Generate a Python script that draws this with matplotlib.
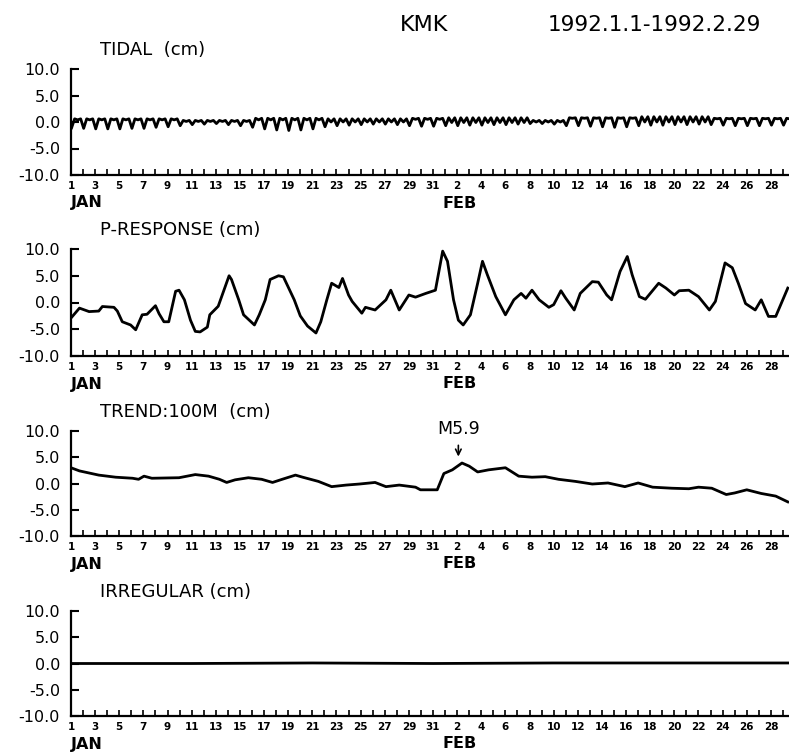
import matplotlib.pyplot as plt
import numpy as np

# time axis: days since Jan 1 1992 00:00
# tick labels: odd days in January, even days in February
tick_days = list(range(0, 60, 2))
tick_labels = [str(d + 1) for d in range(0, 31, 2)] + [str(d - 30) for d in range(32, 60, 2)]

# TIDAL: per-day deep low, high water and secondary low (cm), Jan 1 .. Feb 29
tide_low = [-1.1, -1.2, -1.3, -1.3, -1.3, -1.2, -1.2, -1.0, -0.9,
            -0.7, -0.5, -0.4, -0.3, -0.5, -0.7,
            -1.0, -1.3, -1.5, -1.6, -1.5, -1.3,
            -0.9, -0.7, -0.6, -0.5, -0.4, -0.4, -0.5,
            -0.7, -0.8, -0.8,
            -0.7, -0.7, -0.6, -0.6, -0.5, -0.5, -0.4,
            -0.3, -0.3, -0.4,
            -0.7, -0.7, -0.8, -0.9, -1.0, -0.9,
            -0.7, -0.6, -0.6, -0.5, -0.5, -0.4,
            -0.5, -0.6, -0.7, -0.7, -0.7, -0.6, -0.6]
tide_high = [0.6] * 9 + [0.3] * 6 + [0.7] * 6 + [0.6] * 7 + [0.7] * 3 + \
            [0.8] * 7 + [0.3] * 3 + [0.8] * 6 + [1.0] * 6 + [0.7] * 7
tide_mid = [0.4] * 9 + [0.1] * 6 + [0.4] * 6 + [0.0] * 7 + [0.5] * 3 + \
           [-0.1] * 7 + [0.0] * 3 + [0.7] * 6 + [0.0] * 6 + [0.6] * 7

# P-RESPONSE (cm)
p_t = [0.0, 0.7, 1.5, 2.3, 2.6, 3.56, 3.84, 4.25, 4.94, 5.36, 5.9, 6.3, 7.0, 7.3,
       7.7, 8.1, 8.67, 8.95, 9.4, 9.9, 10.3, 10.7, 11.3, 11.5, 12.2, 13.1, 13.3,
       13.9, 14.3, 15.2, 15.6, 16.1, 16.5, 17.2, 17.6, 18.5, 19.0, 19.6, 20.3,
       20.7, 21.2, 21.6, 22.2, 22.5, 23.0, 23.3, 24.1, 24.4, 25.2, 26.1, 26.5,
       27.2, 28.0, 28.55, 29.4, 30.2, 30.8, 31.2, 31.7, 32.1, 32.5, 33.1, 33.7,
       34.1, 34.5, 35.2, 36.0, 36.7, 37.3, 37.7, 38.2, 38.8, 39.6, 40.0, 40.6,
       41.0, 41.7, 42.2, 43.2, 43.7, 44.4, 44.8, 45.5, 46.1, 46.5, 47.1, 47.6,
       48.7, 49.3, 50.0, 50.4, 51.2, 52.0, 52.9, 53.4, 54.2, 54.8, 55.3, 55.9,
       56.7, 57.2, 57.8, 58.4, 59.4]
p_val = [-2.9, -1.05, -1.7, -1.6, -0.75, -0.9, -1.6, -3.6, -4.2, -5.1, -2.3, -2.2,
         -0.6, -2.1, -3.6, -3.6, 2.1, 2.3, 0.5, -3.3, -5.4, -5.5, -4.6, -2.3, -0.7,
         5.0, 4.3, 0.5, -2.3, -4.2, -2.3, 0.5, 4.3, 5.0, 4.8, 0.5, -2.5, -4.4, -5.7,
         -3.6, 0.5, 3.6, 2.8, 4.5, 1.4, 0.2, -2.0, -0.9, -1.4, 0.5, 2.3,
         -1.4, 1.4, 1.0, 1.7, 2.3, 9.6, 7.7, 0.5, -3.3, -4.2, -2.3, 3.6,
         7.7, 5.2, 1.1, -2.3, 0.5, 1.7, 0.8, 2.3, 0.5, -0.9, -0.4, 2.2,
         0.8, -1.4, 1.7, 3.9, 3.8, 1.4, 0.5, 5.8, 8.6, 5.2, 1.1, 0.6,
         3.6, 2.7, 1.4, 2.2, 2.3, 1.1, -1.4, 0.2, 7.4, 6.5, 3.6, -0.2,
         -1.4, 0.5, -2.6, -2.6, 2.7]

# TREND:100M (cm)
tr_t = [0.0, 0.7, 2.3, 3.7, 5.1, 5.6, 6.05, 6.7, 8.95, 10.3, 11.4, 12.3, 12.9,
        13.6, 14.7, 15.8, 16.7, 17.5, 18.6, 19.2, 20.5, 21.6, 22.8, 23.9, 25.2,
        26.1, 27.2, 28.55, 28.96, 30.35, 30.9, 31.6, 32.4, 33.0, 33.7, 34.6,
        36.0, 37.1, 38.2, 39.3, 40.4, 41.8, 43.2, 44.5, 45.9, 47.0, 48.2, 49.8,
        51.2, 52.0, 53.1, 54.3, 55.0, 56.0, 57.2, 58.4, 59.4]
tr_val = [3.0, 2.4, 1.6, 1.2, 1.0, 0.8, 1.4, 1.0, 1.1, 1.7, 1.4, 0.8, 0.2,
          0.7, 1.1, 0.8, 0.2, 0.8, 1.6, 1.2, 0.4, -0.6, -0.3, -0.1, 0.2,
          -0.6, -0.3, -0.7, -1.2, -1.2, 1.9, 2.6, 3.9, 3.3, 2.2, 2.6,
          3.0, 1.4, 1.2, 1.3, 0.8, 0.4, -0.1, 0.1, -0.6, 0.1, -0.7, -0.9,
          -1.0, -0.7, -0.9, -2.1, -1.8, -1.2, -1.9, -2.4, -3.5]

# IRREGULAR (cm)
irr_t = [0.0, 10.0, 20.0, 30.0, 40.0, 50.0, 59.5]
irr_val = [0.0, 0.0, 0.1, 0.0, 0.1, 0.1, 0.1]

eq_day = 32.1
eq_label = 'M5.9'

# build the tidal trace: low, high, secondary low, high within each day
tide_t, tide_v = [], []
for i in range(60):
    for frac, v in zip([0.05, 0.3, 0.55, 0.8], [tide_low[i], tide_high[i], tide_mid[i], tide_high[i]]):
        tide_t.append(i + frac)
        tide_v.append(v)

W, H = 789, 753
fig = plt.figure(figsize=(W / 100, H / 100), dpi=100)

panels = [
    ('TIDAL  (cm)', tide_t, tide_v, 69, 175),
    ('P-RESPONSE (cm)', p_t, p_val, 249, 356),
    ('TREND:100M  (cm)', tr_t, tr_val, 431, 536),
    ('IRREGULAR (cm)', irr_t, irr_val, 611, 716),
]

axes = []
for title, t, v, top, bot in panels:
    ax = fig.add_axes([71 / W, 1 - bot / H, 718 / W, (bot - top) / H])
    ax.plot(t, v, color='black', lw=2.0, solid_joinstyle='round')
    ax.set_xlim(0, 59.5)
    ax.set_ylim(-10, 10)
    for s in ['top', 'right']:
        ax.spines[s].set_visible(False)
    for s in ['left', 'bottom']:
        ax.spines[s].set_linewidth(1.6)
    ax.set_yticks([-10, -5, 0, 5, 10])
    ax.set_yticklabels(['-10.0', '-5.0', '0.0', '5.0', '10.0'])
    ax.tick_params(axis='y', direction='in', length=6, width=1.5, pad=8, labelsize=11.5)
    ax.set_xticks(tick_days)
    ax.set_xticklabels(tick_labels, fontweight='bold')
    ax.set_xticks(range(0, 60), minor=True)
    ax.tick_params(axis='x', which='both', direction='in', length=4, width=1.2,
                   pad=4, labelsize=7.5)
    fig.text(100 / W, 1 - (top - 19) / H, title, fontsize=13, va='center', ha='left')
    fig.text(71 / W, 1 - (bot + 28) / H, 'JAN', fontsize=11.5, fontweight='bold',
             va='center', ha='left')
    fig.text(442 / W, 1 - (bot + 28) / H, 'FEB', fontsize=11.5, fontweight='bold',
             va='center', ha='left')
    axes.append(ax)

# earthquake marker on the trend panel
ax3 = axes[2]
ax3.text(eq_day, 10.3, eq_label, ha='center', va='center', fontsize=12.5)
ax3.annotate('', xy=(eq_day, 4.6), xytext=(eq_day, 7.8),
             arrowprops=dict(arrowstyle='->', lw=1.2, color='black'))

fig.text(400 / W, 1 - 25 / H, 'KMK', fontsize=16, va='center', ha='left')
fig.text(548 / W, 1 - 25 / H, '1992.1.1-1992.2.29', fontsize=15.5, va='center', ha='left')

plt.savefig('out.png', dpi=100)
